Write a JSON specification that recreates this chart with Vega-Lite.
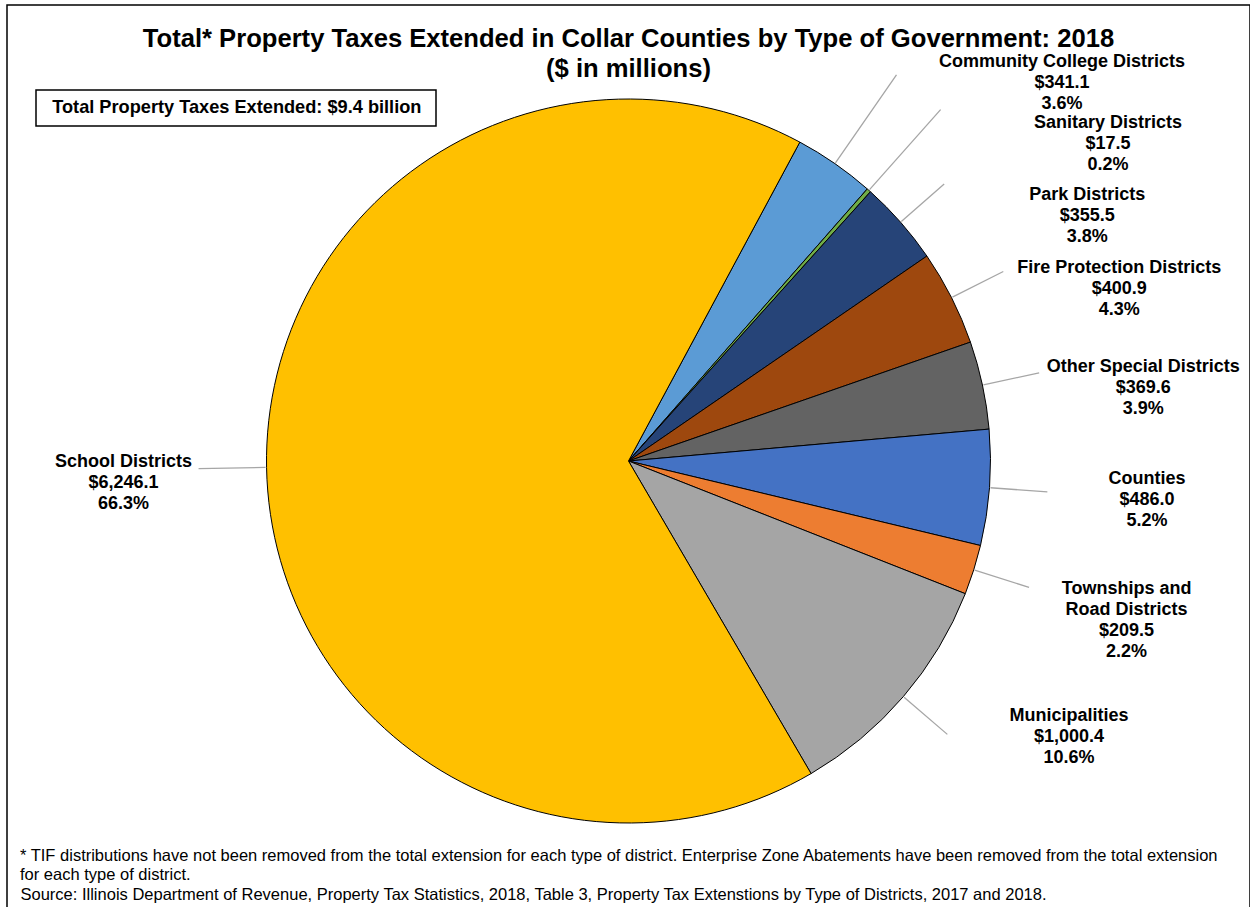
{
  "$schema": "https://vega.github.io/schema/vega-lite/v6.json",
  "width": 1250,
  "height": 907,
  "autosize": {"type": "fit", "contains": "padding"},
  "padding": {"left": 7, "top": 5, "right": 0, "bottom": -10},
  "background": "white",
  "view": {"stroke": "black", "strokeWidth": 1.5},
  "title": {
    "text": ["Total* Property Taxes Extended in Collar Counties by Type of Government: 2018", "($ in millions)"],
    "font": "Liberation Sans",
    "fontSize": 25.6,
    "fontWeight": "bold",
    "color": "black",
    "lineHeight": 30,
    "offset": -78,
    "anchor": "middle",
    "frame": "group"
  },
  "data": {
    "values": [
      {"type": "Community College Districts", "value": 341.1, "order": 1, "label": "Community College Districts\n$341.1\n3.6%"},
      {"type": "Sanitary Districts", "value": 17.5, "order": 2, "label": "Sanitary Districts\n$17.5\n0.2%"},
      {"type": "Park Districts", "value": 355.5, "order": 3, "label": "Park Districts\n$355.5\n3.8%"},
      {"type": "Fire Protection Districts", "value": 400.9, "order": 4, "label": "Fire Protection Districts\n$400.9\n4.3%"},
      {"type": "Other Special Districts", "value": 369.6, "order": 5, "label": "Other Special Districts\n$369.6\n3.9%"},
      {"type": "Counties", "value": 486.0, "order": 6, "label": "Counties\n$486.0\n5.2%"},
      {"type": "Townships and Road Districts", "value": 209.5, "order": 7, "label": "Townships and\nRoad Districts\n$209.5\n2.2%"},
      {"type": "Municipalities", "value": 1000.4, "order": 8, "label": "Municipalities\n$1,000.4\n10.6%"},
      {"type": "School Districts", "value": 6246.1, "order": 9, "label": "School Districts\n$6,246.1\n66.3%"}
    ]
  },
  "layer": [
    {
      "mark": {"type": "arc", "radius": 362, "stroke": "black", "strokeWidth": 1},
      "encoding": {
        "theta": {"field": "value", "type": "quantitative", "stack": true, "scale": {"domain": [0, 9426.6], "range": [0.493, 6.7762]}},
        "order": {"field": "order", "type": "quantitative"},
        "color": {
          "field": "type", "type": "nominal", "legend": null,
          "scale": {
            "domain": ["Community College Districts", "Sanitary Districts", "Park Districts", "Fire Protection Districts", "Other Special Districts", "Counties", "Townships and Road Districts", "Municipalities", "School Districts"],
            "range": ["#5B9BD5", "#70AD47", "#264478", "#9E480E", "#636363", "#4472C4", "#ED7D31", "#A5A5A5", "#FFC000"]
          }
        }
      }
    },
    {
      "transform": [{"filter": "datum.order <= 2"}],
      "mark": {"type": "arc", "radius": 470, "radius2": 363, "padAngle": 3.1416, "fillOpacity": 0, "strokeWidth": 1.3, "stroke": "#a6a6a6"},
      "encoding": {
        "theta": {"field": "value", "type": "quantitative", "stack": true, "scale": {"domain": [0, 358.6], "range": [0.493, 0.73202]}},
        "order": {"field": "order", "type": "quantitative"},
        "detail": {"field": "type", "type": "nominal"}
      }
    },
    {
      "transform": [{"filter": "datum.order >= 3 && datum.order <= 8"}],
      "mark": {"type": "arc", "radius": 420, "radius2": 363, "padAngle": 3.1416, "fillOpacity": 0, "strokeWidth": 1.3},
      "encoding": {
        "theta": {"field": "value", "type": "quantitative", "stack": true, "scale": {"domain": [0, 2821.9], "range": [0.73202, 2.61295]}},
        "order": {"field": "order", "type": "quantitative"},
        "detail": {"field": "type", "type": "nominal"},
        "stroke": {
          "datum": "Source: Illinois Department of Revenue, Property Tax Statistics, 2018, Table 3, Property Tax Extenstions by Type of Districts, 2017 and 2018.",
          "type": "nominal",
          "scale": {"range": ["#a6a6a6"]},
          "legend": {
            "orient": "none", "legendX": 13, "legendY": 843, "padding": 0,
            "title": ["* TIF distributions have not been removed from the total extension for each type of district. Enterprise Zone Abatements have been removed from the total extension", "for each type of district."],
            "titleFont": "Liberation Sans", "titleFontSize": 16.5, "titleFontWeight": "normal", "titleColor": "black",
            "titleLimit": 3000, "titleLineHeight": 18.5, "titlePadding": 4, "titleBaseline": "top",
            "labelFont": "Liberation Sans", "labelFontSize": 16.5, "labelColor": "black", "labelLimit": 3000, "labelOffset": -16,
            "symbolSize": 0, "symbolOpacity": 0, "symbolStrokeWidth": 0
          }
        }
      }
    },
    {
      "transform": [{"filter": "datum.order === 9"}],
      "mark": {"type": "arc", "radius": 430, "radius2": 363, "padAngle": 3.1416, "fillOpacity": 0, "strokeWidth": 1.3, "stroke": "#a6a6a6"},
      "encoding": {
        "theta": {"field": "value", "type": "quantitative", "stack": true, "scale": {"domain": [0, 6246.1], "range": [3.6946, 5.6946]}},
        "order": {"field": "order", "type": "quantitative"},
        "detail": {"field": "type", "type": "nominal"},
        "fill": {
          "datum": "Total Property Taxes Extended:  $9.4 billion",
          "type": "nominal",
          "scale": {"range": ["white"]},
          "legend": {
            "orient": "none", "legendX": 29, "legendY": 85, "padding": 9, "title": null,
            "strokeColor": "black",
            "labelFont": "Liberation Sans", "labelFontSize": 18.2, "labelFontWeight": "bold", "labelColor": "black", "labelLimit": 3000, "labelOffset": -11,
            "symbolSize": 0, "symbolOpacity": 0, "symbolStrokeWidth": 0, "symbolType": "circle"
          }
        }
      }
    },
    {
      "transform": [{"filter": "datum.order <= 2"}],
      "mark": {"type": "text", "radius": 575, "dy": -21, "font": "Liberation Sans", "fontSize": 18, "fontWeight": "bold", "lineBreak": "\n", "lineHeight": 21, "align": "center", "baseline": "middle", "fill": "black"},
      "encoding": {
        "theta": {"field": "value", "type": "quantitative", "stack": true, "scale": {"domain": [0, 358.6], "range": [0.72832, 0.99257]}},
        "order": {"field": "order", "type": "quantitative"},
        "detail": {"field": "type", "type": "nominal"},
        "text": {"field": "label", "type": "nominal"}
      }
    },
    {
      "transform": [{"filter": "datum.order >= 3 && datum.order <= 8"}],
      "mark": {"type": "text", "radius": 520, "dy": -21, "font": "Liberation Sans", "fontSize": 18, "fontWeight": "bold", "lineBreak": "\n", "lineHeight": 21, "align": "center", "baseline": "middle", "fill": "black"},
      "encoding": {
        "theta": {"field": "value", "type": "quantitative", "stack": true, "scale": {"domain": [0, 555.95, 1369.0, 1716.75, 2821.9], "range": [1.00817, 1.23395, 1.64584, 1.86227, 2.35323]}},
        "order": {"field": "order", "type": "quantitative"},
        "detail": {"field": "type", "type": "nominal"},
        "text": {"field": "label", "type": "nominal"}
      }
    },
    {
      "transform": [{"filter": "datum.order === 9"}],
      "mark": {"type": "text", "radius": 505, "dy": -8, "font": "Liberation Sans", "fontSize": 18, "fontWeight": "bold", "lineBreak": "\n", "lineHeight": 21, "align": "center", "baseline": "middle", "fill": "black"},
      "encoding": {
        "theta": {"field": "value", "type": "quantitative", "stack": true, "scale": {"domain": [0, 6246.1], "range": [2.61295, 6.7762]}},
        "order": {"field": "order", "type": "quantitative"},
        "detail": {"field": "type", "type": "nominal"},
        "text": {"field": "label", "type": "nominal"}
      }
    }
  ],
  "resolve": {"scale": {"theta": "independent"}},
  "config": {
    "font": "Liberation Sans",
    "view": {"stroke": "black", "strokeWidth": 1.5},
    "legend": {"strokeWidth": 1.5}
  }
}
